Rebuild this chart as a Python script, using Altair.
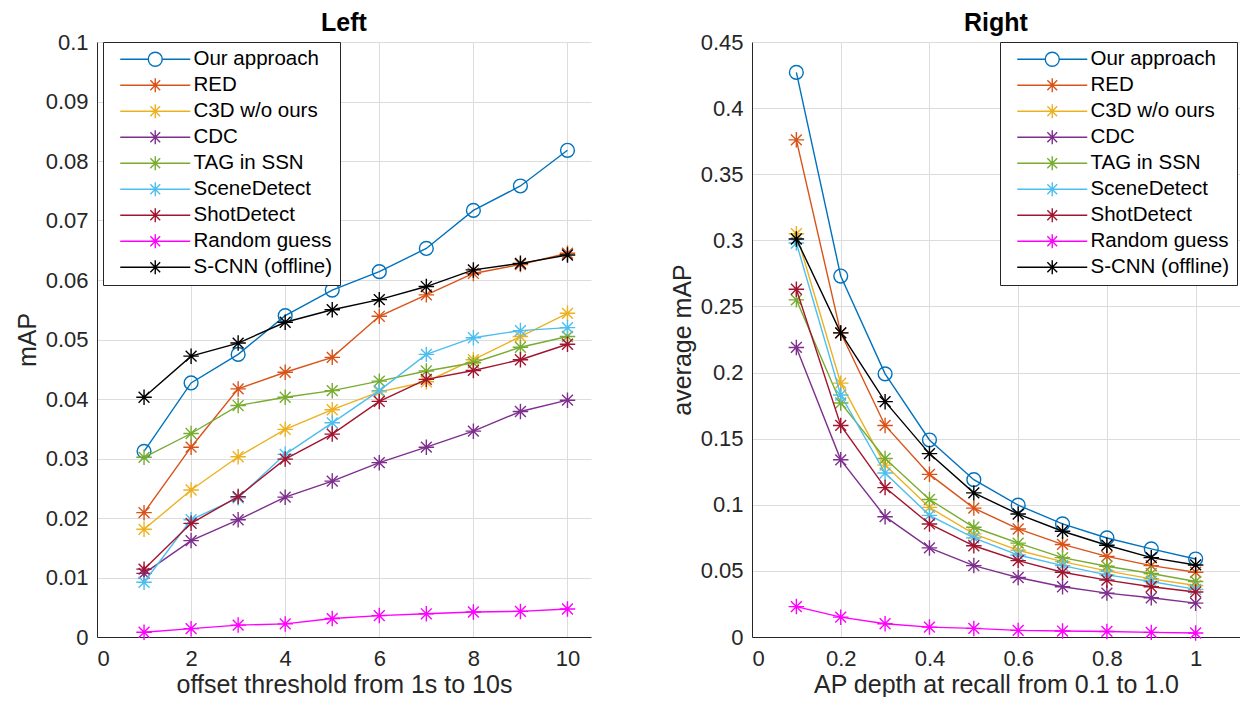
import altair as alt
import pandas as pd

FONT = "Liberation Sans"

series_names = ["Our approach", "RED", "C3D w/o ours", "CDC", "TAG in SSN",
                "SceneDetect", "ShotDetect", "Random guess", "S-CNN (offline)"]
series_colors = ["#0072BD", "#D95319", "#EDB120", "#7E2F8E", "#77AC30",
                 "#4DBEEE", "#A2142F", "#FF00FF", "#000000"]

# Left panel: offset threshold 1s..10s
left_x = [1, 2, 3, 4, 5, 6, 7, 8, 9, 10]
left_our = [0.0312, 0.0427, 0.0475, 0.0540, 0.0583, 0.0614, 0.0653, 0.0717, 0.0758, 0.0818]
left_red = [0.0209, 0.0319, 0.0417, 0.0445, 0.0470, 0.0539, 0.0575, 0.0611, 0.0626, 0.0645]
left_c3d = [0.0181, 0.0247, 0.0303, 0.0349, 0.0382, 0.0412, 0.0429, 0.0466, 0.0505, 0.0544]
left_cdc = [0.0107, 0.0162, 0.0197, 0.0235, 0.0262, 0.0293, 0.0319, 0.0346, 0.0379, 0.0398]
left_tag = [0.0302, 0.0342, 0.0389, 0.0403, 0.0414, 0.0430, 0.0447, 0.0461, 0.0487, 0.0505]
left_scene = [0.0092, 0.0197, 0.0234, 0.0307, 0.0360, 0.0414, 0.0475, 0.0503, 0.0515, 0.0520]
left_shot = [0.0114, 0.0191, 0.0236, 0.0299, 0.0341, 0.0396, 0.0433, 0.0448, 0.0466, 0.0492]
left_random = [0.0008, 0.0014, 0.0020, 0.0022, 0.0031, 0.0036, 0.0039, 0.0042, 0.0043, 0.0047]
left_scnn = [0.0403, 0.0472, 0.0494, 0.0529, 0.0550, 0.0567, 0.0589, 0.0617, 0.0628, 0.0642]

# Right panel: AP depth at recall 0.1..1.0
right_x = [0.1, 0.2, 0.3, 0.4, 0.5, 0.6, 0.7, 0.8, 0.9, 1.0]
right_our = [0.427, 0.273, 0.199, 0.149, 0.119, 0.0997, 0.0855, 0.0749, 0.0666, 0.059]
right_red = [0.376, 0.230, 0.160, 0.123, 0.0975, 0.0817, 0.070, 0.061, 0.054, 0.049]
right_c3d = [0.305, 0.192, 0.130, 0.098, 0.078, 0.0656, 0.057, 0.050, 0.044, 0.039]
right_cdc = [0.219, 0.134, 0.091, 0.0674, 0.054, 0.045, 0.038, 0.0332, 0.0297, 0.0256]
right_tag = [0.255, 0.177, 0.135, 0.104, 0.083, 0.071, 0.060, 0.0535, 0.048, 0.042]
right_scene = [0.298, 0.183, 0.124, 0.092, 0.075, 0.062, 0.054, 0.047, 0.042, 0.036]
right_shot = [0.263, 0.160, 0.113, 0.0855, 0.069, 0.0578, 0.049, 0.043, 0.038, 0.034]
right_random = [0.023, 0.015, 0.010, 0.0075, 0.0065, 0.005, 0.0045, 0.0042, 0.0035, 0.003]
right_scnn = [0.301, 0.230, 0.178, 0.1387, 0.109, 0.093, 0.080, 0.0694, 0.060, 0.0545]

left_series = [left_our, left_red, left_c3d, left_cdc, left_tag,
               left_scene, left_shot, left_random, left_scnn]
right_series = [right_our, right_red, right_c3d, right_cdc, right_tag,
                right_scene, right_shot, right_random, right_scnn]

CIRCLE = "M-1,0A1,1 0 1,1 1,0A1,1 0 1,1 -1,0Z"
STAR = "M-1,0L1,0M0,-1L0,1M-0.7,-0.7L0.7,0.7M-0.7,0.7L0.7,-0.7"
LEG_CIRCLE = "M-5,0L-1,0M1,0L5,0M-1,0A1,1 0 1,1 1,0A1,1 0 1,1 -1,0"
LEG_STAR = "M-5,0L5,0M0,-1L0,1M-0.7,-0.7L0.7,0.7M-0.7,0.7L0.7,-0.7"
marker_paths = [CIRCLE] + [STAR] * 8
legend_paths = [LEG_CIRCLE] + [LEG_STAR] * 8

TICK_FS = 22
LABEL_FS = 25
LEG_FS = 20.5


def make_df(xs, series_list):
    rows = []
    for name, ys in zip(series_names, series_list):
        for xv, yv in zip(xs, ys):
            rows.append({"series": name, "x": xv, "y": yv})
    return pd.DataFrame(rows)


def panel(df, title, xdom, xvals, xtitle, ydom, yvals, ytitle, width, height, legx):
    xenc = alt.X("x:Q", scale=alt.Scale(domain=xdom, nice=False, zero=False),
                 axis=alt.Axis(values=xvals, labelExpr="datum.value + ''", title=xtitle,
                               labelPadding=11, titlePadding=3))
    yenc = alt.Y("y:Q", scale=alt.Scale(domain=ydom, nice=False, zero=False),
                 axis=alt.Axis(values=yvals, labelExpr="datum.value + ''", title=ytitle,
                               labelPadding=9, titlePadding=5))
    layers = []
    for name, col, mp in zip(series_names, series_colors, marker_paths):
        sub = df[df["series"] == name]
        base = alt.Chart(sub)
        layers.append(base.mark_line(color=col, strokeWidth=1.4).encode(x=xenc, y=yenc))
        size = 190 if mp == CIRCLE else 240
        layers.append(base.mark_point(shape=mp, color=col, filled=False, size=size,
                                      strokeWidth=1.4, opacity=1).encode(x=xenc, y=yenc))
    leg = alt.Legend(orient="none", legendX=legx, legendY=0, title=None,
                     fillColor="white", strokeColor="#262626", padding=7,
                     labelFont=FONT, labelFontSize=LEG_FS, labelColor="#000000",
                     symbolStrokeWidth=1.4, symbolSize=196, rowPadding=5,
                     symbolOffset=35, labelOffset=28, labelLimit=400)
    legend_layer = alt.Chart(df).transform_filter("false").mark_point(
        filled=False, size=196, strokeWidth=1.4, opacity=1).encode(
        x=xenc, y=yenc,
        color=alt.Color("series:N", scale=alt.Scale(domain=series_names, range=series_colors),
                        legend=leg),
        shape=alt.Shape("series:N", scale=alt.Scale(domain=series_names, range=legend_paths),
                        legend=leg),
    )
    layers.append(legend_layer)
    return alt.layer(*layers).properties(
        width=width, height=height,
        title=alt.TitleParams(title, font=FONT, fontSize=LABEL_FS, fontWeight="bold",
                              color="#000000", frame="group", anchor="middle", offset=-5),
    )


left_df = make_df(left_x, left_series)
right_df = make_df(right_x, right_series)

left = panel(left_df, "Left", [0, 10.5], [0, 2, 4, 6, 8, 10],
             "offset threshold from 1s to 10s", [0, 0.1],
             [0, 0.01, 0.02, 0.03, 0.04, 0.05, 0.06, 0.07, 0.08, 0.09, 0.1],
             "mAP", 494, 595, 6)
right = panel(right_df, "Right", [0, 1.1], [0, 0.2, 0.4, 0.6, 0.8, 1.0],
              "AP depth at recall from 0.1 to 1.0", [0, 0.45],
              [0, 0.05, 0.1, 0.15, 0.2, 0.25, 0.3, 0.35, 0.4, 0.45],
              "average mAP", 488, 595, 248)

chart = alt.hconcat(left, right, spacing=79).resolve_scale(
    color="independent", shape="independent"
).configure_view(stroke=None).configure_axis(
    labelFont=FONT, labelFontSize=TICK_FS, labelColor="#262626",
    titleFont=FONT, titleFontSize=LABEL_FS, titleFontWeight="normal", titleColor="#262626",
    domainColor="#262626", domainWidth=1, tickSize=0,
    gridColor="#dcdcdc", gridWidth=1,
).properties(padding={"left": 7, "top": 3, "right": 0, "bottom": 0})

chart.save("out.html", embed_options={"renderer": "svg", "actions": False})
